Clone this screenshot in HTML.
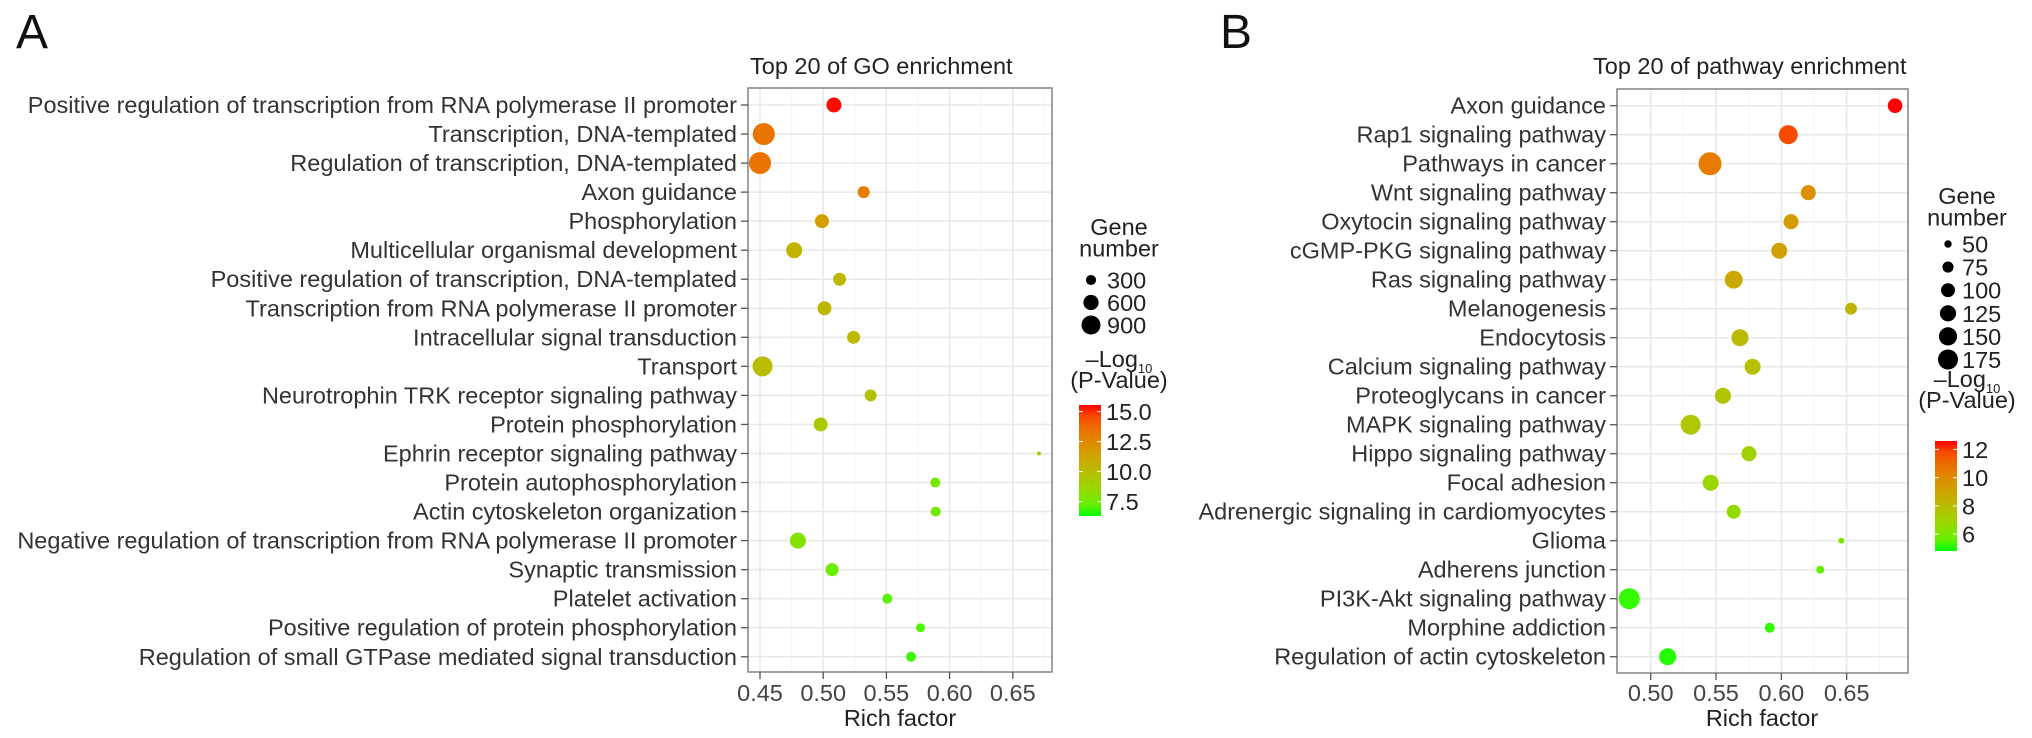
<!DOCTYPE html>
<html><head><meta charset="utf-8"><style>
html,body{margin:0;padding:0;background:#fff;}
svg{display:block;font-family:"Liberation Sans",Arial,sans-serif;}
</style></head><body>
<svg id="fig" width="2032" height="738" viewBox="0 0 2032 738" xmlns="http://www.w3.org/2000/svg">
<text x="16" y="48" font-size="48" fill="#111">A</text>
<text x="1220" y="48" font-size="48" fill="#111">B</text>
</svg>
<script>
// ---------- Panel A data ----------
const goTerms = ["Positive regulation of transcription from RNA polymerase II promoter","Transcription, DNA-templated","Regulation of transcription, DNA-templated","Axon guidance","Phosphorylation","Multicellular organismal development","Positive regulation of transcription, DNA-templated","Transcription from RNA polymerase II promoter","Intracellular signal transduction","Transport","Neurotrophin TRK receptor signaling pathway","Protein phosphorylation","Ephrin receptor signaling pathway","Protein autophosphorylation","Actin cytoskeleton organization","Negative regulation of transcription from RNA polymerase II promoter","Synaptic transmission","Platelet activation","Positive regulation of protein phosphorylation","Regulation of small GTPase mediated signal transduction"];
const goRich = [0.5085,0.453,0.450,0.532,0.499,0.477,0.513,0.501,0.524,0.452,0.5375,0.498,0.6707,0.5887,0.589,0.480,0.507,0.5507,0.577,0.5695];
const goGenes = [586,1185,1185,398,518,657,456,518,456,991,398,518,102,296,296,657,456,296,252,296];
const goLogP = [15.5,13.3,13.4,13.0,11.5,10.5,10.3,10.3,10.2,10.0,9.8,9.3,9.0,7.5,7.5,8.0,7.3,7.0,6.8,6.6];
const goXTicks = [0.45,0.50,0.55,0.60,0.65];
const goSizeBreaks = [300,600,900];
const goColorBreaks = [15.0,12.5,10.0,7.5];
const goColorLabels = ["15.0","12.5","10.0","7.5"];

// ---------- Panel B data ----------
const kgTerms = ["Axon guidance","Rap1 signaling pathway","Pathways in cancer","Wnt signaling pathway","Oxytocin signaling pathway","cGMP-PKG signaling pathway","Ras signaling pathway","Melanogenesis","Endocytosis","Calcium signaling pathway","Proteoglycans in cancer","MAPK signaling pathway","Hippo signaling pathway","Focal adhesion","Adrenergic signaling in cardiomyocytes","Glioma","Adherens junction","PI3K-Akt signaling pathway","Morphine addiction","Regulation of actin cytoskeleton"];
const kgRich = [0.687,0.6053,0.5454,0.6206,0.6074,0.5984,0.5635,0.6533,0.5683,0.578,0.5553,0.5306,0.5752,0.5459,0.5635,0.6459,0.6298,0.4836,0.5911,0.513];
const kgGenes = [107,161,222,112,112,123,147,82,135,123,123,175,112,123,101,43,53,190,66,135];
const kgLogP = [12.6,11.8,10.5,9.8,9.3,9.2,8.8,8.3,8.0,7.8,7.6,7.5,7.0,6.8,6.6,6.0,5.5,5.0,5.0,4.9];
const kgXTicks = [0.50,0.55,0.60,0.65];
const kgSizeBreaks = [50,75,100,125,150,175];
const kgColorBreaks = [12,10,8,6];
const kgColorLabels = ["12","10","8","6"];

const NS = "http://www.w3.org/2000/svg";
const svg = document.getElementById("fig");
const FS = 23.5;
function mk(tag, attrs, parent){ const e=document.createElementNS(NS,tag); for(const k in attrs) e.setAttribute(k,attrs[k]); (parent||svg).appendChild(e); return e; }

function srgb2lin(c){c/=255;return c<=0.04045?c/12.92:Math.pow((c+0.055)/1.055,2.4);}
function lin2srgb(c){c=c<=0.0031308?12.92*c:1.055*Math.pow(c,1/2.4)-0.055;return Math.max(0,Math.min(255,Math.round(c*255)));}
function toLab(r,g,b){r=srgb2lin(r);g=srgb2lin(g);b=srgb2lin(b);
 let X=(0.4124*r+0.3576*g+0.1805*b)/0.95047,Y=0.2126*r+0.7152*g+0.0722*b,Z=(0.0193*r+0.1192*g+0.9505*b)/1.08883;
 const f=t=>t>0.008856?Math.cbrt(t):7.787*t+16/116;
 return [116*f(Y)-16,500*(f(X)-f(Y)),200*(f(Y)-f(Z))];}
function fromLab(L,a,b){const fy=(L+16)/116,fx=fy+a/500,fz=fy-b/200;
 const fi=t=>t*t*t>0.008856?t*t*t:(t-16/116)/7.787;
 const X=fi(fx)*0.95047,Y=fi(fy),Z=fi(fz)*1.08883;
 const r=3.2406*X-1.5372*Y-0.4986*Z,g=-0.9689*X+1.8758*Y+0.0415*Z,bb=0.0557*X-0.2040*Y+1.0570*Z;
 return "rgb("+lin2srgb(r)+","+lin2srgb(g)+","+lin2srgb(bb)+")";}
const LG=toLab(0,255,0), LR=toLab(255,0,0);
function col(t){t=Math.max(0,Math.min(1,t));return fromLab(LG[0]+(LR[0]-LG[0])*t,LG[1]+(LR[1]-LG[1])*t,LG[2]+(LR[2]-LG[2])*t);}

function drawPanel(p){
  const g=mk("g",{});
  
  
  const xs=v=>p.x0px+(v-p.x0v)/p.dv*p.dpx;
  const ys=i=>p.rowTop+i*p.rowStep;
  const cs=v=>(v-p.cmin)/(p.cmax-p.cmin);
  const rs=n=>Math.sqrt(Math.max(1,p.ra*n+p.rb));
  const tt=mk("text",{x:p.titleX,y:74,"font-size":FS,fill:"#222"},g); tt.textContent=p.title;
  
  
  for(let i=0;i<p.ticks.length+1;i++){
    const v=p.ticks[0]+(i-0.5)*p.dv; const x=xs(v);
    if(x>p.L&&x<p.R) mk("line",{x1:x,x2:x,y1:p.T,y2:p.B,stroke:"#f4f4f4","stroke-width":1},g);
  }
  p.ticks.forEach(v=>{const x=xs(v); mk("line",{x1:x,x2:x,y1:p.T,y2:p.B,stroke:"#e8e8e8","stroke-width":1.5},g);});
  p.terms.forEach((t,i)=>{mk("line",{x1:p.L,x2:p.R,y1:ys(i),y2:ys(i),stroke:"#e8e8e8","stroke-width":1.5},g);});
  const br=mk("rect",{x:p.L,y:p.T,width:p.R-p.L,height:p.B-p.T,fill:"none",stroke:"#8a8a8a","stroke-width":1.6},g);
  
  
  p.terms.forEach((t,i)=>{
    const y=ys(i);
    mk("line",{x1:p.L-7,x2:p.L,y1:y,y2:y,stroke:"#555","stroke-width":1.3},g);
    const tx=mk("text",{x:p.L-11,y:y+8,"font-size":FS,fill:"#333","text-anchor":"end"},g);
    tx.textContent=t;
    
    
  });
  p.ticks.forEach(v=>{
    const x=xs(v);
    mk("line",{x1:x,x2:x,y1:p.B,y2:p.B+7,stroke:"#555","stroke-width":1.3},g);
    const tx=mk("text",{x:x,y:701,"font-size":FS,fill:"#444","text-anchor":"middle"},g);
    tx.textContent=v.toFixed(2);
    
    
  });
  const xt=mk("text",{x:p.xTitleX,y:726,"font-size":FS,fill:"#222","text-anchor":"middle"},g);
  xt.textContent="Rich factor";
  
  
  p.terms.forEach((t,i)=>{
    const c=mk("circle",{cx:xs(p.rich[i]),cy:ys(i),r:rs(p.genes[i]),fill:col(cs(p.logp[i]))},g);
    
    
  });
  const l1=mk("text",{x:p.legCX,y:p.geneY,"font-size":FS,fill:"#222","text-anchor":"middle"},g); l1.textContent="Gene";
  
  
  const l2=mk("text",{x:p.legCX,y:p.geneY+21.5,"font-size":FS,fill:"#222","text-anchor":"middle"},g); l2.textContent="number";
  
  
  p.sizeBreaks.forEach((n,i)=>{
    const y=p.sizeY0+i*p.sizeStep;
    const c=mk("circle",{cx:p.sizeDotX,cy:y,r:rs(n),fill:"#000"},g);
    
    
    const tx=mk("text",{x:p.sizeLabX,y:y+8.5,"font-size":FS,fill:"#222"},g); tx.textContent=n;
    
    
  });
  const c1=mk("text",{x:p.legCX,y:p.logY,"font-size":FS,fill:"#222","text-anchor":"middle"},g);
  c1.innerHTML='–Log<tspan font-size="13" dy="6">10</tspan>';
  
  
  const c2=mk("text",{x:p.legCX,y:p.logY+21,"font-size":FS,fill:"#222","text-anchor":"middle"},g); c2.textContent="(P-Value)";
  
  
  const gid="grad-"+p.id;
  const defs=mk("defs",{},g); const lg=mk("linearGradient",{id:gid,x1:0,y1:1,x2:0,y2:0},defs);
  for(let k=0;k<=10;k++) mk("stop",{offset:k/10,"stop-color":col(k/10)},lg);
  const bar=mk("rect",{x:p.barX,y:p.barTop,width:p.barW,height:p.barBot-p.barTop,fill:"url(#"+gid+")"},g);
  
  
  const by=v=>p.barBot-(v-p.cmin)/(p.cmax-p.cmin)*(p.barBot-p.barTop);
  p.colorBreaks.forEach((v,i)=>{
    const y=by(v);
    mk("line",{x1:p.barX,x2:p.barX+4,y1:y,y2:y,stroke:"#fff","stroke-width":1},g);
    mk("line",{x1:p.barX+p.barW-4,x2:p.barX+p.barW,y1:y,y2:y,stroke:"#fff","stroke-width":1},g);
    const tx=mk("text",{x:p.barX+p.barW+5,y:y+8.5,"font-size":FS,fill:"#222"},g); tx.textContent=p.colorLabels[i];
    
    
  });
}

drawPanel({id:"go",title:"Top 20 of GO enrichment",titleX:750,terms:goTerms,rich:goRich,genes:goGenes,logp:goLogP,
  ticks:goXTicks,L:748,R:1052,T:88,B:672,x0px:760,x0v:0.45,dv:0.05,dpx:63.2,rowTop:105,rowStep:29.04,
  cmin:6.3,cmax:15.55,ra:0.108,rb:-7,xTitleX:900,
  legCX:1119,geneY:235,sizeBreaks:goSizeBreaks,sizeY0:280,sizeStep:22.5,sizeDotX:1091,sizeLabX:1107,
  logY:367,barX:1079,barW:22,barTop:405,barBot:516,colorBreaks:goColorBreaks,colorLabels:goColorLabels});

drawPanel({id:"kegg",title:"Top 20 of pathway enrichment",titleX:1593,terms:kgTerms,rich:kgRich,genes:kgGenes,logp:kgLogP,
  ticks:kgXTicks,L:1617,R:1908,T:89,B:673,x0px:1650.7,x0v:0.50,dv:0.05,dpx:65.33,rowTop:105.7,rowStep:29.0,
  cmin:4.8,cmax:12.6,ra:0.69,rb:-20.8,xTitleX:1762,
  legCX:1967,geneY:204,sizeBreaks:kgSizeBreaks,sizeY0:244,sizeStep:23.1,sizeDotX:1948,sizeLabX:1962,
  logY:387,barX:1935,barW:22,barTop:441,barBot:551,colorBreaks:kgColorBreaks,colorLabels:kgColorLabels});
</script>
</body></html>
